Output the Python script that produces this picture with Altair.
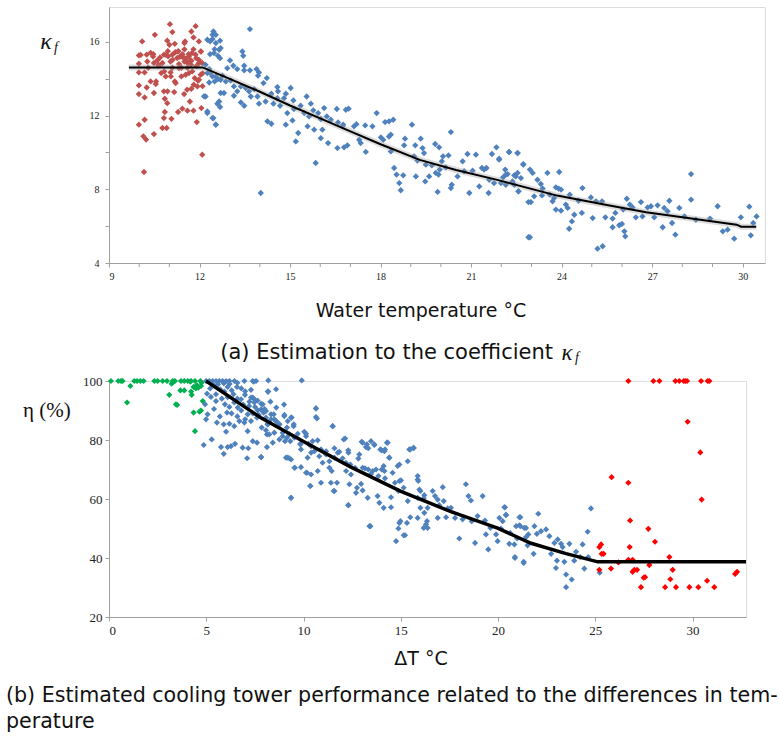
import altair as alt
import pandas as pd

# ---------------- Panel (a) data ----------------
a_red_x = [10.10,10.52,11.02,11.10,11.87,11.73,10.93,11.18,11.52,11.80,9.99,10.25,10.38,10.47,10.69,10.82,10.96,11.10,11.26,11.43,
           11.49,11.65,11.73,11.87,12.04,11.98,12.09,11.60,11.32,11.04,10.77,10.49,9.99,10.18,9.99,10.73,10.88,11.04,11.18,11.40,
           11.65,11.84,12.04,10.38,10.55,10.25,9.99,9.99,10.18,10.49,10.82,10.85,11.16,10.93,11.73,11.93,11.68,11.49,12.06,10.85,
           11.29,11.43,11.60,11.80,10.82,11.07,10.18,9.99,10.77,10.91,10.49,11.91,10.14,10.23,12.09,10.16,
           11.30,11.50,11.70,11.90,12.00,11.60,11.80,12.10,11.95,12.10,11.40,11.10,10.60,10.30,11.20,11.55,11.75,11.35,10.65,10.95,
           10.89,11.11,11.28,11.42,11.50,11.64,11.72,11.89,11.98,12.05,11.76,11.54,11.32,11.05,10.83,10.64,10.46,10.27,10.05,11.98,
           11.81,11.59,11.21,10.94,10.56,11.98,11.50,11.00]
a_red_y = [16.03,16.39,16.97,16.54,16.86,16.57,16.07,15.90,16.03,16.25,15.27,15.31,15.41,15.34,15.16,15.31,15.22,15.31,15.13,15.34,
           15.13,15.22,14.98,15.31,15.49,15.03,14.86,14.86,14.80,14.94,14.86,14.86,14.82,14.35,14.35,14.31,14.13,14.35,13.86,14.13,
           14.31,14.04,14.22,13.86,13.72,13.53,13.64,13.17,12.99,13.23,13.32,12.92,13.28,12.68,13.46,13.59,12.77,13.17,12.41,12.20,
           12.20,12.38,12.27,12.27,11.87,11.83,11.78,11.51,11.33,11.33,11.00,11.65,10.88,10.70,9.88,8.94,
           15.50,15.60,15.00,14.70,14.90,14.60,15.60,14.30,13.90,13.60,14.60,14.60,15.00,14.60,15.45,15.10,15.40,15.20,14.70,15.50,
           15.30,15.03,15.48,15.21,14.94,15.34,14.76,15.12,14.85,15.48,14.40,14.22,14.58,14.13,14.40,14.76,15.21,14.94,15.30,13.95,
           13.68,13.41,13.77,13.32,13.86,16.03,15.94,15.85]

a_blue_x = [12.26,12.43,12.54,12.68,12.65,12.48,12.35,12.20,12.35,12.54,12.70,12.15,12.26,12.43,12.54,12.65,12.70,
            13.67,12.46,12.54,12.35,12.43,12.50,12.61,12.70,12.68,13.42,13.45,13.01,13.12,12.92,13.25,13.48,13.48,13.67,13.89,13.97,
            14.23,14.12,13.94,12.32,12.26,12.43,12.50,12.32,12.61,12.76,12.87,13.03,13.14,13.25,13.37,13.53,13.64,13.81,13.70,13.92,
            12.20,12.59,12.68,12.81,13.14,13.37,13.48,12.26,12.46,12.54,14.58,14.60,14.38,15.02,14.80,14.86,14.45,14.67,15.11,14.91,
            15.13,15.35,15.55,15.69,15.47,15.63,15.77,15.93,16.13,16.02,16.22,16.35,16.55,16.59,16.74,14.25,14.38,14.86,15.08,15.27,
            15.19,15.58,15.80,16.07,16.02,16.26,16.57,15.85,14.58,14.19,13.97,14.03,
            16.85,16.94,17.12,16.76,16.90,16.79,17.29,17.34,17.51,17.20,17.49,17.73,17.87,18.01,18.09,18.15,18.28,18.42,18.28,18.34,
            18.34,18.45,18.53,18.62,18.67,18.75,18.81,18.78,19.04,19.15,19.17,19.11,19.22,19.33,19.39,19.44,19.48,19.50,19.61,19.70,
            19.81,19.83,19.92,19.96,19.94,20.03,19.89,20.07,20.16,20.25,20.33,20.36,20.33,20.55,20.72,20.77,20.88,20.94,21.05,21.16,
            21.27,21.36,21.43,21.51,21.58,21.60,21.69,21.76,21.84,21.93,21.99,22.06,22.15,22.26,22.37,22.48,22.54,22.57,22.65,22.73,
            22.90,22.90,
            21.93,22.26,22.54,22.13,22.21,22.43,22.54,22.15,22.43,22.57,22.73,22.95,23.04,22.98,22.95,23.09,23.20,23.31,23.37,23.35,
            23.53,23.61,23.70,23.75,23.81,23.92,23.90,23.98,23.81,23.98,24.14,24.20,24.27,24.42,24.34,24.25,24.56,24.69,24.67,24.97,
            25.03,25.14,25.19,25.36,25.34,25.45,25.69,25.69,25.78,25.91,26.00,26.04,26.08,26.11,26.16,26.26,26.35,26.46,26.63,26.68,
            26.85,26.96,27.07,27.18,27.35,27.40,27.57,27.51,27.66,27.77,27.90,28.07,28.29,28.29,28.45,28.92,29.17,29.34,29.50,29.72,
            29.94,30.22,30.27,30.35,30.46]
a_blue_y = [16.12,16.39,15.94,16.07,15.58,15.40,15.34,14.76,14.31,14.13,13.95,13.05,12.23,11.87,11.51,12.77,13.23,
            16.70,16.57,16.39,16.03,16.16,15.61,15.25,15.67,15.12,15.49,15.25,15.00,14.71,14.58,14.53,14.71,14.46,14.46,14.53,14.35,
            14.04,13.77,14.17,14.53,14.31,14.13,13.86,13.80,13.99,14.17,13.86,13.91,13.59,13.32,13.59,13.50,13.32,13.44,13.04,13.04,
            13.04,12.65,12.47,13.23,13.08,12.72,12.54,12.14,11.87,11.51,13.55,13.32,13.19,13.50,12.95,13.19,12.65,12.54,12.83,12.14,
            12.36,12.54,13.04,12.65,12.14,11.96,12.29,12.14,12.41,11.82,11.96,11.78,12.36,11.63,11.42,11.69,11.56,11.51,11.74,11.06,
            10.60,11.42,11.24,11.24,10.78,10.51,10.24,9.43,12.95,12.77,12.65,7.80,
            12.32,12.38,11.42,11.51,10.39,10.28,10.69,10.51,10.03,11.54,11.47,11.42,12.14,10.82,10.69,11.65,11.69,11.78,10.87,10.97,
            10.06,9.16,8.80,8.34,7.95,8.76,10.75,10.39,11.51,10.39,8.70,9.79,9.56,10.75,10.24,9.97,8.43,9.34,8.70,9.30,
            10.46,8.89,8.80,9.07,10.28,9.52,7.86,9.79,9.19,9.84,11.11,8.25,8.07,8.70,9.52,8.98,9.92,7.80,9.01,9.88,
            8.16,9.16,9.07,9.16,7.80,8.52,9.92,8.34,10.28,9.66,8.34,8.65,8.80,10.03,8.43,8.70,9.97,7.89,8.61,9.34,
            7.31,5.40,
            9.61,10.02,9.97,9.07,8.83,8.76,8.89,8.25,8.25,7.89,9.37,9.07,8.89,7.31,5.40,7.62,8.52,8.29,8.04,7.67,
            8.89,7.71,7.35,7.53,8.11,8.94,8.04,7.98,6.90,6.84,7.17,6.99,7.71,6.62,6.26,5.86,7.38,8.07,6.72,7.56,
            6.44,7.35,4.78,4.91,7.35,6.48,6.41,5.94,6.72,6.05,6.12,6.90,5.72,5.45,7.49,7.17,7.02,6.48,7.31,6.53,
            7.02,7.08,6.48,7.13,5.94,6.99,7.38,6.81,6.17,5.54,6.99,6.53,8.83,7.44,6.35,6.41,7.08,5.72,5.81,5.32,
            6.48,7.06,5.50,6.17,6.53]

a_fit_x = [9.66,12.1,13.0,14.0,15.0,16.0,17.0,18.0,19.3,20.5,21.9,23.85,25.5,26.8,28.3,29.8,29.95,30.45]
a_fit_y = [14.62,14.62,14.0,13.3,12.55,11.85,11.15,10.45,9.6,9.05,8.5,7.66,7.15,6.75,6.42,6.08,5.97,5.97]

a_x_labels = [9, 12, 15, 18, 21, 24, 27, 30]
a_x_minor = [10, 11, 13, 14, 16, 17, 19, 20, 22, 23, 25, 26, 28, 29]

# ---------------- Panel (b) data ----------------
b_green_x = [0.10,0.48,0.62,0.70,1.30,1.44,1.61,1.78,2.33,2.50,2.76,2.98,3.27,3.39,3.70,3.87,4.05,4.22,4.42,4.70,
             1.10,0.93,3.10,3.22,3.33,3.67,3.87,3.50,4.22,4.25,4.35,4.47,4.52,4.59,4.73,4.82,4.73,4.65,4.35,4.42,4.18,4.76,3.44]
b_green_y = [100,100,100,100,100,100,100,100,100,100,100,100,100,100,100,100,100,100,100,100,
             98.3,92.7,95.3,99.1,99.8,96.8,96.8,91.9,96.4,95.3,98.0,97.5,98.6,97.7,98.3,93.2,90.0,89.6,89.3,83.0,99.8,99.4,92.1]

b_blue_x = [4.99,5.16,5.33,5.50,5.67,5.84,6.02,6.19,6.45,6.96,7.39,7.56,8.16,5.42,5.04,5.24,5.50,4.94,5.72,5.93,
            6.10,6.31,6.58,5.96,6.19,6.07,6.44,6.62,6.79,6.99,7.22,7.39,7.51,7.64,7.82,7.95,8.07,8.16,8.12,7.85,
            7.61,7.30,7.13,6.96,6.70,6.44,6.19,5.90,5.55,5.07,4.99,6.02,7.13,7.39,7.61,8.12,4.87,5.28,5.76,5.90,
            6.10,6.27,6.48,6.87,7.10,7.16,7.82,7.47,
            8.19,9.91,8.59,8.19,7.44,7.30,7.47,7.64,7.90,7.82,8.07,8.33,8.50,8.16,8.59,8.76,9.02,9.19,9.36,9.49,
            8.93,9.15,9.32,7.82,8.42,9.10,9.27,9.56,9.36,9.84,10.04,10.13,10.25,10.47,10.64,10.69,10.39,10.35,10.18,10.73,
            10.90,11.16,11.33,11.50,11.59,11.76,11.41,11.59,12.01,12.14,12.30,12.18,12.30,12.44,12.65,12.75,12.87,13.04,13.16,13.21,
            13.33,13.47,13.30,13.39,13.56,13.64,13.85,13.81,14.02,14.12,14.19,14.16,14.29,14.41,14.50,14.84,14.93,14.93,15.15,15.22,
            15.32,15.49,15.66,15.87,15.96,15.87,16.01,16.18,16.21,16.30,16.38,16.64,16.76,16.90,16.98,16.90,17.16,17.21,17.33,17.41,
            17.58,17.79,18.01,18.18,18.35,18.48,18.61,18.65,18.82,18.95,19.21,19.33,19.38,19.50,19.61,19.90,19.98,20.07,20.36,20.41,
            20.63,20.84,20.98,21.10,21.15,21.32,21.44,21.56,20.87,20.58,
            20.33,20.41,20.24,20.15,20.93,21.15,21.10,21.35,21.44,21.52,21.32,20.87,21.87,22.07,22.00,22.21,21.83,22.47,22.64,22.73,
            22.90,22.98,23.07,23.03,23.24,23.32,23.41,23.50,23.50,23.67,23.79,23.92,24.01,24.23,24.35,24.44,24.61,24.78,24.64,25.23,
            7.90,8.16,8.33,8.47,8.59,8.76,9.01,9.15,9.39,9.50,8.07,8.24,8.50,8.76,8.93,9.05,9.27,9.53,9.70,9.84,
            9.87,10.13,9.19,9.36,9.53,9.87,10.13,10.39,10.21,10.56,10.64,10.64,10.73,10.39,10.81,10.98,11.16,11.33,11.45,11.50,
            11.59,11.72,11.84,12.07,12.19,12.31,12.41,12.36,12.70,12.82,12.99,13.04,13.26,13.33,13.47,13.64,13.73,13.95,14.02,14.16,
            14.19,14.33,14.41,14.58,14.70,14.88,14.93,15.01,15.36,15.44,15.66,15.87,15.90,16.01,16.21,16.38,16.35,16.18,15.87,15.36,
            15.49,14.98,14.88,15.15,14.76,13.90,14.12,14.50,13.44,12.31,11.55,10.90,10.35,9.36,13.04,12.96,
            5.30,5.60,5.90,6.20,6.60,6.80,7.00,7.30,5.20,5.50,5.80,6.10,6.40,6.60,6.90,7.20,7.40,7.70,8.00,6.30,
            6.60,6.80,7.00,5.40,5.70,8.30,9.00,8.60]
b_blue_y = [100,100,100,100,100,100,100,100,100,100,100,100,96.4,98.3,95.7,94.6,93.2,92.1,97.2,96.4,
            98.0,96.8,98.0,92.1,91.2,89.3,92.7,91.0,93.8,95.3,93.0,94.4,91.2,90.1,92.3,89.3,87.6,85.3,81.9,84.2,
            87.6,86.4,88.7,85.9,86.4,84.7,85.5,85.3,85.9,88.7,87.0,82.8,83.0,79.6,79.1,77.6,78.3,80.2,77.6,75.3,
            77.6,77.9,78.7,77.4,73.8,77.2,74.2,93.8,
            100.2,100.2,97.2,96.4,99.8,94.4,92.7,93.4,92.1,90.4,89.8,88.7,87.0,85.3,86.4,85.3,88.5,86.4,87.6,84.7,
            82.5,80.8,79.6,74.2,79.1,74.0,73.8,70.6,60.4,78.7,82.8,81.3,78.7,79.6,90.7,87.3,75.7,64.4,68.9,69.5,
            76.8,75.1,72.8,84.7,77.2,75.7,65.5,62.7,73.8,80.5,76.5,72.3,57.9,68.3,70.6,63.8,75.1,79.1,70.4,77.6,
            77.2,79.6,60.4,50.8,69.5,78.3,67.8,61.0,76.5,71.2,76.8,69.5,79.1,74.0,57.2,71.2,66.1,51.9,63.8,47.7,
            51.9,76.8,77.2,66.6,63.2,60.4,57.0,60.2,55.3,51.4,50.2,62.7,61.0,59.8,57.9,53.6,64.0,59.3,53.8,56.8,
            57.0,53.6,46.6,53.1,65.0,61.0,59.5,52.5,45.1,54.2,61.0,52.7,48.0,42.9,50.2,48.0,45.7,53.6,57.2,54.5,
            48.5,44.6,46.6,53.8,50.8,38.3,50.2,48.0,40.0,44.8,
            57.2,54.7,52.5,50.0,50.8,53.8,51.1,50.2,47.1,44.3,38.7,40.3,50.8,55.0,48.2,49.1,41.4,49.7,47.4,41.4,
            45.1,36.6,46.3,39.1,44.8,43.7,38.7,30.1,34.4,44.8,32.7,39.1,42.1,40.3,44.6,36.4,48.9,56.8,40.3,35.0,
            89.8,85.5,87.0,88.7,86.4,85.3,88.1,84.2,87.6,85.3,83.3,81.9,82.5,80.2,81.3,79.6,81.9,80.8,82.1,78.5,
            76.8,82.1,74.0,73.4,70.6,70.8,68.9,68.3,74.0,76.2,90.7,87.8,79.9,77.9,74.5,72.3,76.2,70.6,69.5,84.7,
            74.0,65.5,76.0,80.2,69.5,75.7,71.7,65.0,62.1,73.7,79.4,70.6,78.5,70.0,68.5,78.5,70.0,76.8,70.0,76.2,
            67.0,79.1,74.0,68.9,65.5,62.7,71.7,66.3,72.8,76.8,77.4,67.8,66.1,62.7,61.3,57.0,52.5,50.2,53.6,59.3,
            53.8,52.5,50.0,47.7,45.7,58.7,57.0,60.6,50.8,57.9,62.7,65.5,64.4,60.4,62.9,65.1,
            99.0,98.8,99.2,99.0,99.4,97.5,96.5,97.0,97.5,95.5,94.0,94.5,95.5,94.0,92.0,91.5,89.0,88.5,90.5,89.0,
            88.0,90.0,87.0,90.5,88.0,93.0,92.0,91.0]

b_red_x = [26.70,27.99,28.30,29.12,29.32,29.55,29.63,29.72,30.44,30.78,30.87,29.75,30.40,30.47,25.84,26.70,26.79,27.73,28.07,25.30,
           25.21,25.33,25.43,26.77,26.70,26.92,28.81,26.19,25.21,25.81,26.92,27.01,27.15,27.78,27.56,27.49,28.98,28.86,27.35,28.59,
           29.15,29.84,30.30,31.12,30.75,32.19,32.29]
b_red_y = [100,100,100,100,100,100,100,100,100,100,100,86.2,75.8,59.8,67.4,65.5,52.7,49.9,45.5,44.6,
           43.7,41.4,41.4,43.7,39.4,39.4,40.3,38.5,36.0,36.4,35.3,36.0,36.0,37.6,33.5,33.3,36.0,32.8,30.1,30.1,
           30.1,30.1,30.1,30.1,32.3,34.6,35.3]

b_fit_x = [4.99,7.30,7.81,10.0,12.44,15.01,17.58,19.98,21.7,23.5,25.13,32.75]
b_fit_y = [100,89.8,87.5,79.5,70.8,62.6,55.7,50.1,45.0,41.5,38.7,38.7]

# ---------------- styling ----------------
SANS = "DejaVu Sans"
SERIF = "Liberation Serif"
AX = "#a0a0a0"
A_W, A_H = 656, 256
B_W, B_H = 637, 236


def txt(s, x, y, size, font=SANS, align="center", style="normal", baseline="middle"):
    return alt.Chart(pd.DataFrame({"t": [s]})).mark_text(
        font=font, fontSize=size, align=align, baseline=baseline, fontStyle=style, color="#111"
    ).encode(x=alt.value(x), y=alt.value(y), text="t:N")


def pts(xs, ys, color, size, X, Y):
    df = pd.DataFrame({"x": xs, "y": ys})
    return alt.Chart(df).mark_point(shape="diamond", filled=True, size=size, opacity=1, color=color).encode(x=X, y=Y)


# ---------------- Panel (a) ----------------
ax_a = alt.X("x:Q", scale=alt.Scale(domain=[9, 30.74], nice=False, zero=False),
             axis=alt.Axis(values=a_x_labels, title=None, grid=False,
                           labelFont=SERIF, labelFontSize=10, labelColor="#222",
                           domainColor=AX, tickColor=AX, tickSize=4, labelPadding=4))
ay_a = alt.Y("y:Q", scale=alt.Scale(domain=[4, 17.9], nice=False, zero=False),
             axis=alt.Axis(values=[4, 6, 8, 10, 12, 14, 16], title=None, grid=False, labelOverlap=False,
                           labelExpr="datum.value % 4 == 0 ? datum.label : ''",
                           labelFont=SERIF, labelFontSize=10, labelColor="#222",
                           domainColor=AX, tickColor=AX, tickSize=4, labelPadding=6))

a_fit = pd.DataFrame({"x": a_fit_x, "y": a_fit_y})
a_halo = alt.Chart(a_fit).mark_line(color="#9a9a9a", strokeWidth=6, opacity=0.35).encode(x="x:Q", y="y:Q")
a_line = alt.Chart(a_fit).mark_line(color="#000000", strokeWidth=2).encode(x="x:Q", y="y:Q")
a_minor = alt.Chart(pd.DataFrame({"x": a_x_minor})).mark_rule(color=AX, strokeWidth=1).encode(
    x="x:Q", y=alt.value(A_H), y2=alt.value(A_H + 4))

top = alt.layer(
    pts(a_red_x, a_red_y, "#c0504d", 40, ax_a, ay_a),
    pts(a_blue_x, a_blue_y, "#4f81bd", 40, ax_a, ay_a),
    a_halo, a_line, a_minor,
    txt("κ", -63, 35, 24, font=SERIF, style="italic"),
    txt("f", -53, 41, 14, font=SERIF, style="italic"),
    txt("Water temperature °C", 312, 304, 19),
    txt("(a) Estimation to the coefficient", 444, 346, 21, align="right"),
    txt("κ", 458, 346, 23, font=SERIF, style="italic"),
    txt("f", 468, 351, 14, font=SERIF, style="italic"),
).properties(width=A_W, height=A_H)

# ---------------- Panel (b) ----------------
ax_b = alt.X("x:Q", scale=alt.Scale(domain=[0, 32.75], nice=False, zero=False),
             axis=alt.Axis(values=[0, 5, 10, 15, 20, 25, 30], title=None, grid=False,
                           labelFont=SERIF, labelFontSize=13, labelColor="#222",
                           domainColor=AX, tickColor=AX, tickSize=4, labelPadding=3))
ay_b = alt.Y("y:Q", scale=alt.Scale(domain=[20, 100], nice=False, zero=False),
             axis=alt.Axis(values=[20, 30, 40, 50, 60, 70, 80, 90, 100], title=None, grid=False, labelOverlap=False,
                           labelExpr="datum.value % 20 == 0 ? datum.label : ''",
                           labelFont=SERIF, labelFontSize=13, labelColor="#222",
                           domainColor=AX, tickColor=AX, tickSize=4, labelPadding=3))

b_fit = pd.DataFrame({"x": b_fit_x, "y": b_fit_y})
b_line = alt.Chart(b_fit).mark_line(color="#000000", strokeWidth=3.5).encode(x="x:Q", y="y:Q")

bottom = alt.layer(
    pts(b_green_x, b_green_y, "#00b050", 38, ax_b, ay_b),
    pts(b_blue_x, b_blue_y, "#4f81bd", 38, ax_b, ay_b),
    pts(b_red_x, b_red_y, "#ff0000", 38, ax_b, ay_b),
    b_line,
    txt("η (%)", -86, 30, 21, font=SERIF, align="left"),
    txt("ΔT °C", 312, 278, 19),
    txt("(b) Estimated cooling tower performance related to the differences in tem-", -103, 315, 20.6, align="left"),
    txt("perature", -103, 341, 20.6, align="left"),
).properties(width=B_W, height=B_H)

chart = alt.vconcat(top, bottom, spacing=118, bounds="flush").properties(
    padding={"left": 5, "top": 6, "right": 0, "bottom": 5}
).configure_view(strokeWidth=0).configure(background="white")

chart.save("out.html", embed_options={"renderer": "svg", "actions": False})
